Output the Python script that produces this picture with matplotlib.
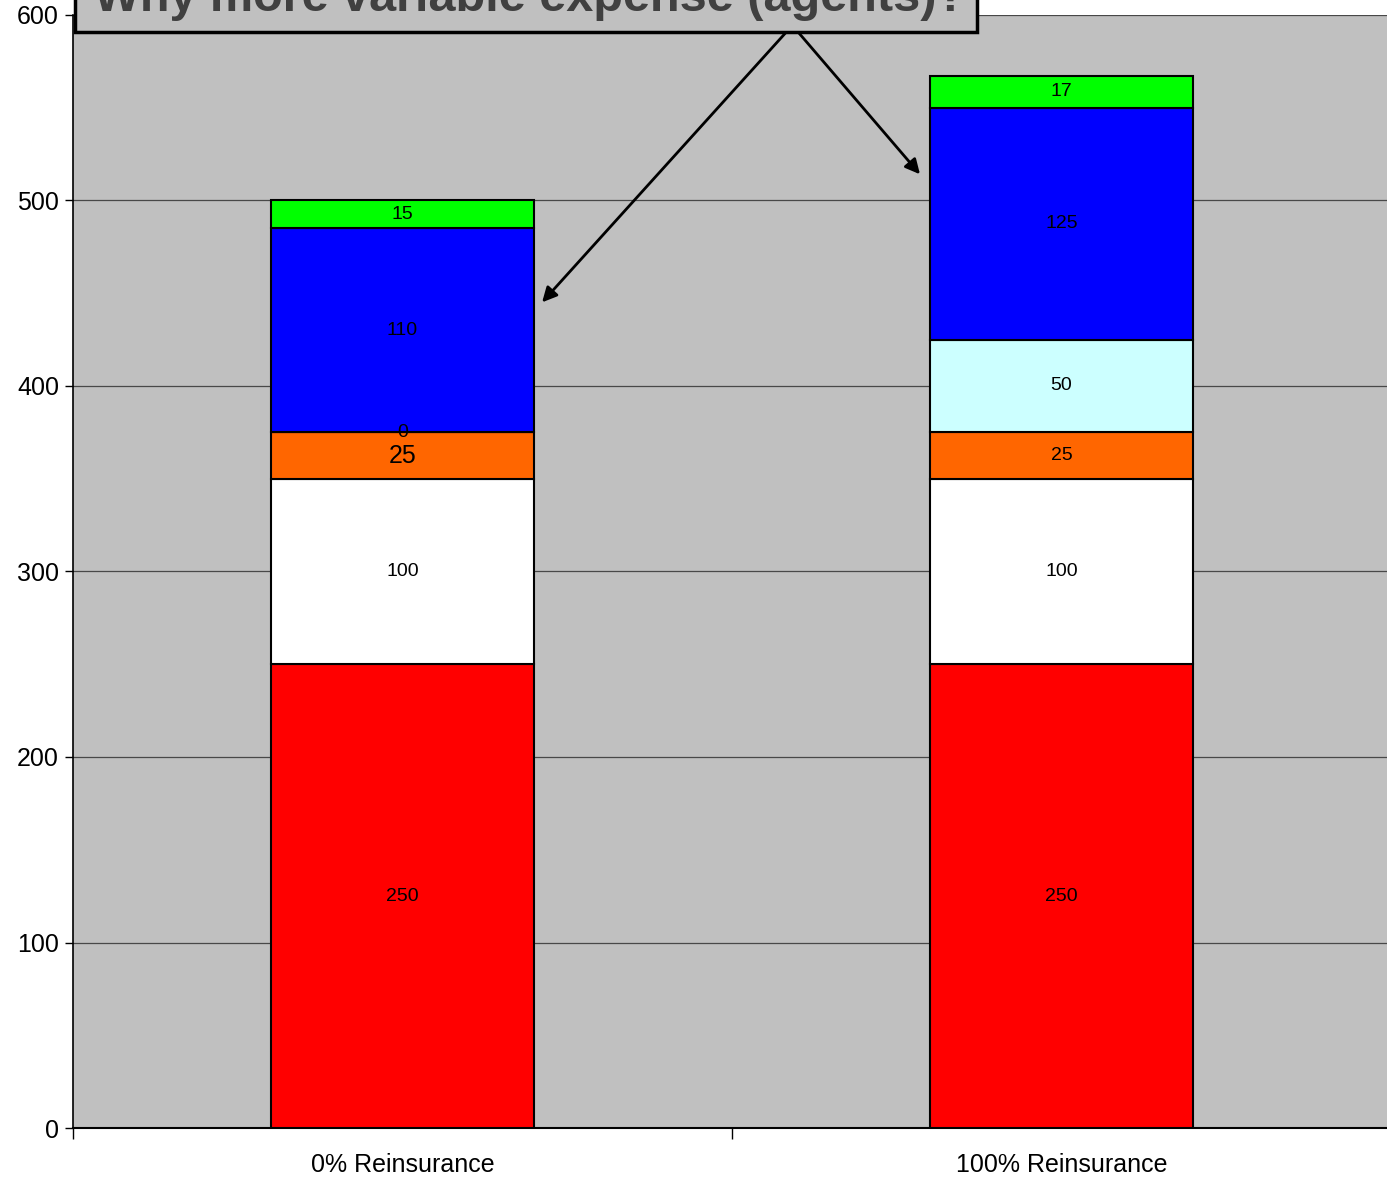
import matplotlib
matplotlib.use("Agg")
import matplotlib.pyplot as plt
from matplotlib.patches import Rectangle
import numpy as np

plt.rcParams['font.family'] = ['Liberation Sans', 'DejaVu Sans']

categories = ["0% Reinsurance", "100% Reinsurance"]
series_names = ["Losses", "Fixed expense", "Other", "Reinsurance", "Variable expense", "Profit"]
series_values = [
    [250, 250],
    [100, 100],
    [25, 25],
    [0, 50],
    [110, 125],
    [15, 17],
]
series_colors = ["#FF0000", "#FFFFFF", "#FF6600", "#CCFFFF", "#0000FF", "#00FF00"]
title_text = "Why more variable expense (agents)?"
yticks = [0, 100, 200, 300, 400, 500, 600]

W, H = 1387, 1178
fig = plt.figure(figsize=(W / 100, H / 100), dpi=100)
ax = fig.add_axes([73 / W, 50 / H, (1391 - 73) / W, 1113 / H])
ax.set_facecolor("#C0C0C0")

x = np.arange(len(categories))
bottom = np.zeros(len(categories))
for i, (vals, col) in enumerate(zip(series_values, series_colors)):
    vals = np.array(vals, dtype=float)
    ax.bar(x, vals, bottom=bottom, width=0.4, color=col, edgecolor="black",
           linewidth=1.5, zorder=3)
    for j, v in enumerate(vals):
        fs = 14
        if i == 2 and j == 0:
            fs = 18
        ax.text(x[j], bottom[j] + v / 2, f"{int(v)}", ha="center", va="center",
                fontsize=fs, color="black", zorder=5)
    bottom += vals

ax.set_xlim(-0.5, 1.5)
ax.set_ylim(0, 600)
ax.set_yticks(yticks)
ax.set_yticklabels([str(t) for t in yticks], fontsize=18)
ax.yaxis.grid(True, color="#484848", linewidth=0.9, zorder=0)
ax.set_axisbelow(True)
ax.set_xticks(x)
ax.set_xticklabels(categories, fontsize=18)
ax.tick_params(axis="x", which="major", length=0, pad=18)
ax.set_xticks([-0.5, 0.5, 1.5], minor=True)
ax.tick_params(axis="x", which="minor", length=8, width=1)
ax.tick_params(axis="y", length=6, width=1, pad=4)
for s in ["top", "right"]:
    ax.spines[s].set_visible(False)
ax.spines["left"].set_linewidth(1.2)
ax.spines["bottom"].set_linewidth(1.5)

# title box
fig.patches.append(Rectangle((75 / W, (H - 32) / H), 902 / W, 0.06,
                             transform=fig.transFigure, facecolor="#C0C0C0",
                             edgecolor="black", linewidth=2.5, zorder=10))
fig.text(530 / W, (H - 11) / H, title_text, ha="center", va="baseline",
         fontsize=35, fontweight="bold", color="#404040", zorder=11)

# arrows
start = (0.588, 593)
ax.annotate("", xy=(0.209, 444), xytext=start,
            arrowprops=dict(arrowstyle="-|>", color="black", lw=2, mutation_scale=22),
            zorder=12, annotation_clip=False)
ax.annotate("", xy=(0.788, 513), xytext=(0.595, 593),
            arrowprops=dict(arrowstyle="-|>", color="black", lw=2, mutation_scale=22),
            zorder=12, annotation_clip=False)

fig.savefig("out.png", dpi=100)
